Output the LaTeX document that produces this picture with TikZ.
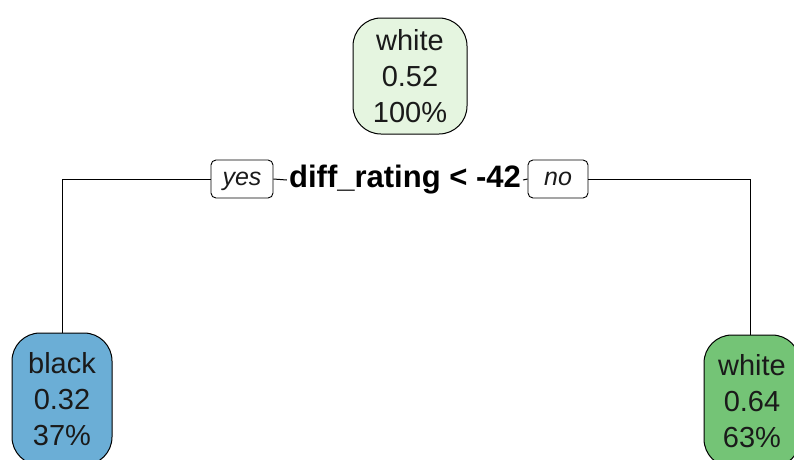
\documentclass[tikz,border=0pt]{standalone}
\usepackage{fontspec}
\setmainfont{Liberation Sans}
\definecolor{rootfill}{HTML}{E5F5E0}
\definecolor{bluefill}{HTML}{6BAED6}
\definecolor{greenfill}{HTML}{74C476}
\definecolor{ink}{HTML}{1A1A1A}
\tikzset{
  leaf/.style={draw=black, line width=1pt, rounded corners=28pt, align=center,
    text=ink, inner sep=0pt, font=\fontsize{29}{36}\selectfont},
  tag/.style={draw=black, line width=0.9pt, rounded corners=5pt, inner sep=0pt,
    minimum height=38pt, text height=17pt, text depth=5pt, text=ink,
    font=\fontsize{25}{30}\selectfont\itshape},
  split/.style={inner sep=2pt, text=black, font=\fontsize{31}{36}\selectfont\bfseries},
  edge/.style={draw=black, line width=1pt}
}
\begin{document}
\begin{tikzpicture}[x=1pt,y=-1pt]
\useasboundingbox (0,0) rectangle (794,459);
\clip (0,0) rectangle (794,459);
% root node
\node[leaf, fill=rootfill, minimum width=114pt, minimum height=116pt] (root) at (410,76)
  {white\\0.52\\100\%};
% split label and branch tags
\node[split] (cond) at (405,180) {diff\_rating < -42};
\node[tag, minimum width=62pt] (yes) at (242,179) {yes};
\node[tag, minimum width=60pt] (no) at (558,179) {no};
% leaves
\node[leaf, fill=bluefill, minimum width=100pt, minimum height=132pt] (left) at (62,399)
  {black\\0.32\\37\%};
\node[leaf, fill=greenfill, minimum width=96pt, minimum height=132pt] (right) at (752,401)
  {white\\0.64\\63\%};
% connectors
\coordinate (rtop) at (750,335);
\coordinate (ltop) at (62,333);
\draw[edge] (ltop) |- (yes.west);
\draw[edge] (yes.east) -- (cond.west);
\draw[edge] (cond.east) -- (no.west);
\draw[edge] (no.east) -| (rtop);
\end{tikzpicture}
\end{document}
